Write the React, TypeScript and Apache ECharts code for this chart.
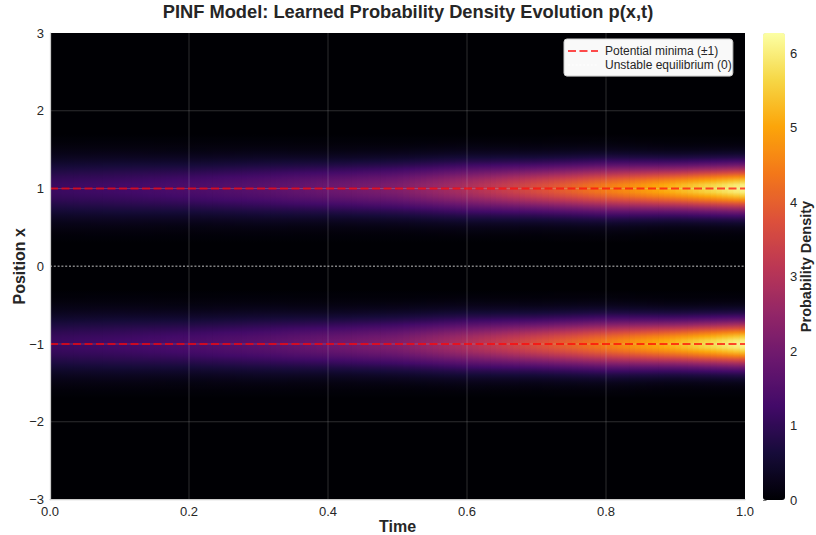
import React, { useEffect, useRef } from "react";
import * as echarts from "echarts";

// ---- data ----
const timeSteps = [0, 0.1, 0.2, 0.3, 0.4, 0.5, 0.6, 0.7, 0.8, 0.9, 1.0];
const offsetsFromMinimum = [0, 0.05, 0.1, 0.15, 0.2, 0.25, 0.3, 0.35, 0.4, 0.45, 0.5, 0.55, 0.6, 0.65];
// density p(x,t) at |x - minimum| = offset, one row per time step (same at x = +1 and x = -1)
const densityProfiles = [
  [1.15, 1.13, 1.06, 0.96, 0.83, 0.70, 0.56, 0.43, 0.32, 0.23, 0.16, 0.10, 0.06, 0.04],
  [1.25, 1.23, 1.15, 1.04, 0.91, 0.76, 0.61, 0.47, 0.35, 0.25, 0.17, 0.11, 0.07, 0.04],
  [1.40, 1.37, 1.28, 1.15, 0.98, 0.80, 0.63, 0.47, 0.34, 0.23, 0.15, 0.10, 0.06, 0.04],
  [1.60, 1.56, 1.46, 1.31, 1.12, 0.92, 0.72, 0.54, 0.39, 0.27, 0.18, 0.11, 0.07, 0.04],
  [1.90, 1.85, 1.72, 1.52, 1.28, 1.03, 0.78, 0.57, 0.39, 0.26, 0.16, 0.10, 0.06, 0.03],
  [2.20, 2.15, 1.99, 1.76, 1.48, 1.19, 0.90, 0.66, 0.45, 0.30, 0.19, 0.11, 0.06, 0.03],
  [2.90, 2.83, 2.63, 2.32, 1.95, 1.57, 1.19, 0.86, 0.60, 0.39, 0.25, 0.15, 0.08, 0.04],
  [3.70, 3.60, 3.31, 2.88, 2.37, 1.85, 1.36, 0.95, 0.63, 0.40, 0.24, 0.14, 0.07, 0.04],
  [4.50, 4.38, 4.02, 3.50, 2.88, 2.25, 1.66, 1.16, 0.77, 0.49, 0.29, 0.17, 0.09, 0.05],
  [5.30, 5.14, 4.67, 4.00, 3.22, 2.43, 1.72, 1.14, 0.72, 0.42, 0.23, 0.12, 0.06, 0.03],
  [6.20, 6.01, 5.47, 4.68, 3.76, 2.84, 2.02, 1.34, 0.84, 0.50, 0.27, 0.14, 0.07, 0.03],
];
const potentialMinima = [-1, 1];
const unstableEquilibrium = [0];
const timeTicks = [0, 0.2, 0.4, 0.6, 0.8, 1.0];
const positionTicks = [-3, -2, -1, 0, 1, 2, 3];
const densityTicks = [0, 1, 2, 3, 4, 5, 6];
const densityMax = 6.27;

const inferno = [
  "#000004", "#160b39", "#420a68", "#6a176e", "#932667", "#bc3754",
  "#dd513a", "#f37819", "#fca50a", "#f6d746", "#fcffa4",
];

const FONT = "'Liberation Sans', Arial, Helvetica, sans-serif";
const TEXT = "#262626";
const BG = "#000004";

function hexToRgb(h: string) {
  return [parseInt(h.slice(1, 3), 16), parseInt(h.slice(3, 5), 16), parseInt(h.slice(5, 7), 16)];
}
const infernoRgb = inferno.map(hexToRgb);
function infernoColor(v: number) {
  const t = Math.max(0, Math.min(1, v / densityMax)) * (inferno.length - 1);
  const i = Math.min(inferno.length - 2, Math.floor(t));
  const f = t - i;
  const a = infernoRgb[i], b = infernoRgb[i + 1];
  const c = a.map((x, k) => Math.round(x + (b[k] - x) * f));
  return `rgb(${c[0]},${c[1]},${c[2]})`;
}

const minus = (v: number) => String(v).replace("-", "\u2212");

export default function App() {
  const ref = useRef<HTMLDivElement>(null);

  useEffect(() => {
    if (!ref.current) return;
    const chart = echarts.init(ref.current, null, { renderer: "svg" });

    // heatmap cells: one item per time interval and potential minimum
    const cellData: number[][] = [];
    for (let i = 0; i < timeSteps.length - 1; i++) {
      for (const w of potentialMinima) cellData.push([timeSteps[i], timeSteps[i + 1], w, i]);
    }
    const reach = offsetsFromMinimum[offsetsFromMinimum.length - 1];
    const fade = 0.05; // fade-out to the background beyond the last row
    const span = reach + fade;
    const SUB = 12;
    const lastStart = timeSteps[timeSteps.length - 2];

    const gridData: number[][] = [
      ...timeTicks.slice(1, -1).map((t) => [t, 0]),
      ...positionTicks.slice(1, -1).filter((p) => p !== 0).map((p) => [p, 1]),
    ];

    const lineSeries: any[] = [];
    potentialMinima.forEach((m) => {
      lineSeries.push({
        name: "Potential minima (±1)",
        type: "line",
        data: [[timeSteps[0], m], [timeSteps[timeSteps.length - 1], m]],
        symbol: "none",
        silent: true,
        z: 5,
        itemStyle: { color: "rgba(255,0,0,0.7)" },
        lineStyle: { color: "rgba(255,0,0,0.7)", width: 2, type: [8, 3.5] },
      });
    });
    unstableEquilibrium.forEach((e) => {
      lineSeries.push({
        name: "Unstable equilibrium (0)",
        type: "line",
        data: [[timeSteps[0], e], [timeSteps[timeSteps.length - 1], e]],
        symbol: "none",
        silent: true,
        z: 5,
        itemStyle: { color: "rgba(255,255,255,0.5)" },
        lineStyle: { color: "rgba(255,255,255,0.5)", width: 1.3, type: [2, 1.8] },
      });
    });

    const option: any = {
      animation: false,
      backgroundColor: "#ffffff",
      textStyle: { fontFamily: FONT },
      title: {
        text: "PINF Model: Learned Probability Density Evolution p(x,t)",
        left: "center",
        top: 2,
        padding: 0,
        textStyle: { fontFamily: FONT, fontSize: 18.3, fontWeight: "bold", color: TEXT },
      },
      legend: {
        data: ["Potential minima (±1)", "Unstable equilibrium (0)"],
        orient: "vertical",
        left: 564,
        top: 39,
        itemWidth: 30,
        itemHeight: 14,
        itemGap: 2,
        padding: [6, 1, 5, 3],
        backgroundColor: "rgba(255,255,255,0.97)",
        borderColor: "#cfcfcf",
        borderWidth: 1,
        borderRadius: 3,
        shadowColor: "rgba(0,0,0,0.35)",
        shadowOffsetX: 2,
        shadowOffsetY: 2,
        shadowBlur: 0,
        selectedMode: false,
        itemStyle: { opacity: 0 },
        z: 10,
        textStyle: { fontFamily: FONT, fontSize: 12, color: TEXT, padding: [0, 0, 0, 2] },
      },
      grid: [
        {
          left: 50, top: 33, width: 695, height: 466.5,
          show: true, backgroundColor: BG, borderWidth: 0,
          outerBoundsMode: "none", containLabel: false,
        },
        { left: 763, top: 33, width: 22, height: 467, show: false, outerBoundsMode: "none", containLabel: false },
      ],
      xAxis: [
        {
          type: "value",
          gridIndex: 0,
          min: 0,
          max: 1,
          interval: 0.2,
          z: 10,
          name: "Time",
          nameLocation: "middle",
          nameGap: 19,
          nameMoveOverlap: false,
          nameTextStyle: { fontFamily: FONT, fontSize: 16, fontWeight: "bold", color: TEXT },
          axisLine: { show: true, onZero: false, lineStyle: { color: "#cccccc", width: 1.25 } },
          axisTick: { show: false },
          splitLine: { show: false },
          axisLabel: {
            margin: 5,
            fontSize: 13,
            color: TEXT,
            fontFamily: FONT,
            formatter: (v: number) => v.toFixed(1),
          },
        },
        { type: "value", gridIndex: 1, show: false, min: 0, max: 1 },
      ],
      yAxis: [
        {
          type: "value",
          gridIndex: 0,
          min: -3,
          max: 3,
          interval: 1,
          z: 10,
          name: "Position x",
          nameLocation: "middle",
          nameGap: 22.5,
          nameMoveOverlap: false,
          nameRotate: 90,
          nameTextStyle: { fontFamily: FONT, fontSize: 16, fontWeight: "bold", color: TEXT },
          axisLine: { show: true, onZero: false, lineStyle: { color: "#cccccc", width: 1.25 } },
          axisTick: { show: false },
          splitLine: { show: false },
          axisLabel: { margin: 6, fontSize: 13, color: TEXT, fontFamily: FONT, formatter: (v: number) => minus(v) },
        },
        {
          type: "value",
          gridIndex: 1,
          position: "right",
          min: 0,
          max: densityMax,
          name: "Probability Density",
          nameLocation: "middle",
          nameGap: 13,
          nameMoveOverlap: false,
          nameRotate: 90,
          nameTextStyle: { fontFamily: FONT, fontSize: 14.5, fontWeight: "bold", color: TEXT },
          axisLine: { show: false },
          splitLine: { show: false },
          axisTick: { show: true, length: 3.5, customValues: densityTicks, lineStyle: { color: "#555555", width: 0.8 } },
          axisLabel: {
            customValues: densityTicks,
            margin: 5,
            fontSize: 13,
            color: TEXT,
            fontFamily: FONT,
            formatter: (v: number) => (Number.isInteger(v) ? String(v) : ""),
          },
        },
      ],
      visualMap: {
        type: "continuous",
        min: 0,
        max: densityMax,
        left: 763,
        top: 33,
        itemWidth: 22,
        itemHeight: 467,
        padding: 0,
        calculable: false,
        seriesIndex: 0,
        inRange: { color: inferno },
        showLabel: false,
      },
      series: [
        { type: "scatter", xAxisIndex: 1, yAxisIndex: 1, data: [], silent: true },
        {
          type: "custom",
          name: "density",
          xAxisIndex: 0,
          yAxisIndex: 0,
          silent: true,
          z: 1,
          data: cellData,
          encode: { x: [0, 1], y: 2 },
          renderItem: (params: any, api: any) => {
            const t0 = api.value(0), t1 = api.value(1), w = api.value(2), i = api.value(3);
            const left = densityProfiles[i], right = densityProfiles[i + 1];
            const tl = api.coord([t0, w + span]);
            const br = api.coord([t1, w - span]);
            const totalW = br[0] - tl[0];
            const h = br[1] - tl[1];
            const isLast = t0 >= lastStart - 1e-9;
            const children: any[] = [];
            for (let k = 0; k < SUB; k++) {
              const f = (k + 0.5) / SUB;
              const vals = left.map((v, j) => v + (right[j] - v) * f);
              const stops: any[] = [{ offset: 0, color: BG }];
              for (let j = offsetsFromMinimum.length - 1; j >= 0; j--) {
                stops.push({ offset: (span - offsetsFromMinimum[j]) / (2 * span), color: infernoColor(vals[j]) });
              }
              for (let j = 1; j < offsetsFromMinimum.length; j++) {
                stops.push({ offset: (span + offsetsFromMinimum[j]) / (2 * span), color: infernoColor(vals[j]) });
              }
              stops.push({ offset: 1, color: BG });
              const extra = isLast && k === SUB - 1 ? 0 : 0.7;
              children.push({
                type: "rect",
                shape: { x: tl[0] + (totalW * k) / SUB, y: tl[1], width: totalW / SUB + extra, height: h },
                style: { fill: { type: "linear", x: 0, y: 0, x2: 0, y2: 1, colorStops: stops } },
              });
            }
            return { type: "group", children };
          },
        },
        {
          type: "custom",
          name: "gridOverlay",
          xAxisIndex: 0,
          yAxisIndex: 0,
          silent: true,
          z: 3,
          data: gridData,
          renderItem: (params: any, api: any) => {
            const v = api.value(0), o = api.value(1);
            const a = o === 0 ? api.coord([v, -3]) : api.coord([0, v]);
            const b = o === 0 ? api.coord([v, 3]) : api.coord([1, v]);
            return {
              type: "line",
              shape: { x1: a[0], y1: a[1], x2: b[0], y2: b[1] },
              style: { stroke: "rgba(220,220,220,0.2)", lineWidth: 1 },
            };
          },
        },
        ...lineSeries,
      ],
    };

    chart.setOption(option);
    return () => chart.dispose();
  }, []);

  return <div ref={ref} style={{ position: "fixed", left: 0, top: 0, width: 816, height: 535 }} />;
}
